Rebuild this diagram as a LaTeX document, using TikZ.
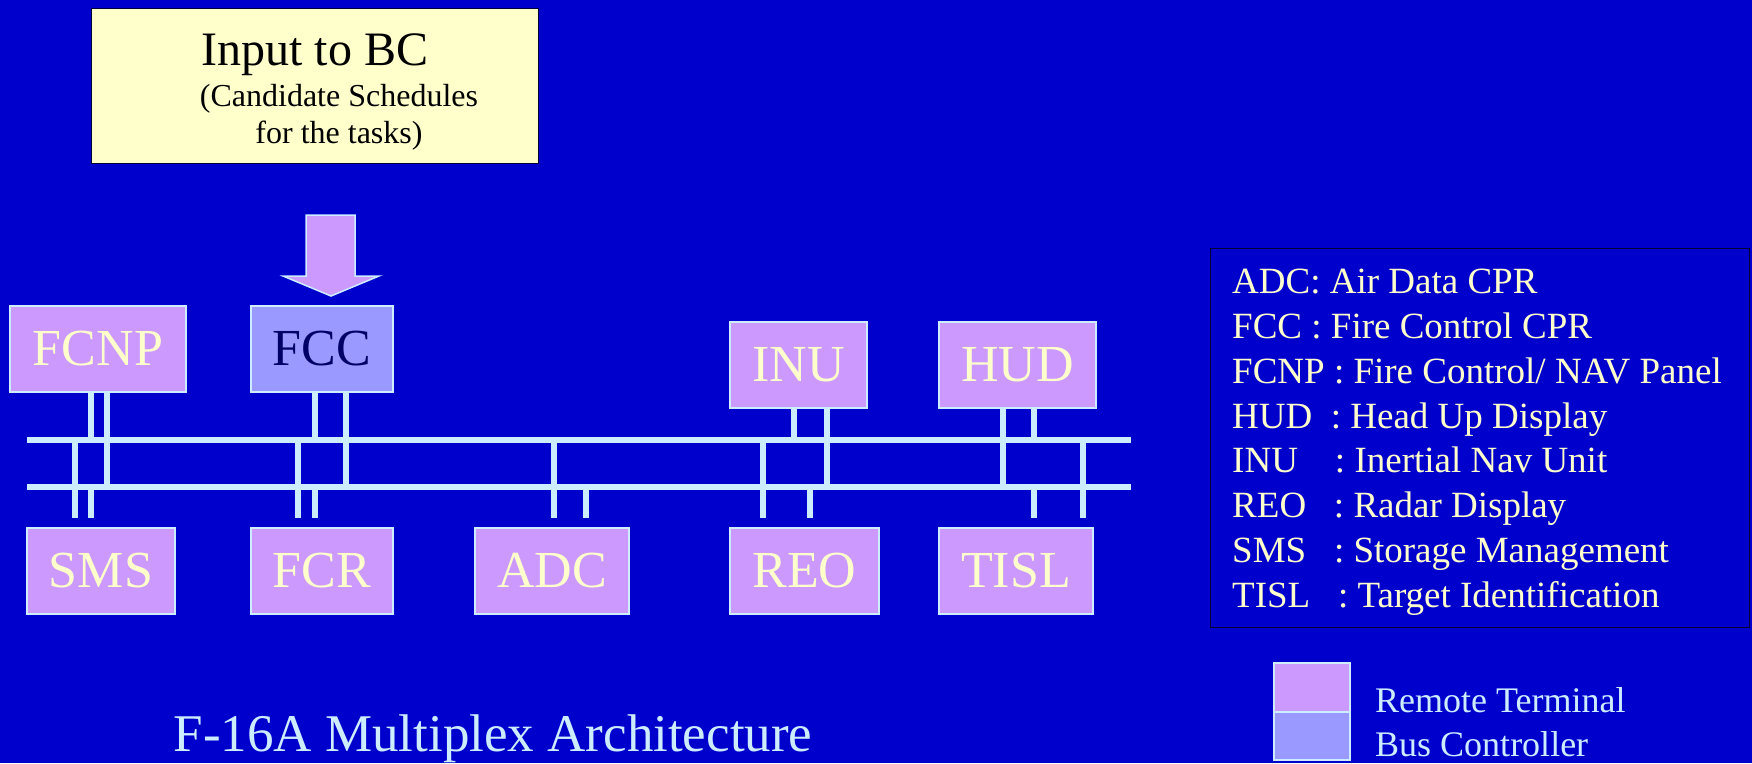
\documentclass[tikz,border=0pt]{standalone}
\usepackage{fontspec}
\setmainfont{Liberation Serif}

\definecolor{bgblue}{HTML}{0000CC}
\definecolor{rtpurple}{HTML}{CC99FF}
\definecolor{bcviolet}{HTML}{9999FF}
\definecolor{lightcyan}{HTML}{CCECFF}
\definecolor{paleyellow}{HTML}{FFFFCC}
\definecolor{navytext}{HTML}{000066}
\definecolor{darkrule}{HTML}{000033}

\tikzset{
    unit/.style={rectangle, draw=lightcyan, line width=1.5pt, fill=rtpurple,
        text=paleyellow, inner sep=0pt, minimum height=86pt,
        font=\fontsize{52}{60}\selectfont},
    controller/.style={unit, fill=bcviolet, text=navytext},
    stub/.style={draw=lightcyan, line width=6pt},
    bus/.style={draw=lightcyan, line width=6pt},
    legendline/.style={anchor=base west, inner sep=0pt, text=paleyellow,
        font=\fontsize{37}{44}\selectfont},
}

\begin{document}
\begin{tikzpicture}[x=1pt, y=-1pt]
    \useasboundingbox (0,0) rectangle (1752,763);
    \fill [bgblue] (0,0) rectangle (1752,763);

    % input box
    \node [rectangle, draw=darkrule, line width=1pt, fill=paleyellow,
           minimum width=447pt, minimum height=155pt, inner sep=0pt]
        (input) at (315,85.5) {};
    \node [anchor=base, inner sep=0pt, font=\fontsize{48}{56}\selectfont]
        (inputtitle) at (315,65) {Input to BC};
    \node [anchor=base, inner sep=0pt, font=\fontsize{32}{37}\selectfont]
        (inputsub) at (339,106) {(Candidate Schedules};
    \node [anchor=base, inner sep=0pt, font=\fontsize{32}{37}\selectfont]
        (inputtasks) at (339,143) {for the tasks)};

    \draw [draw=lightcyan, line width=1.5pt, fill=rtpurple]
        (306,215) -- (355,215) -- (355,276) -- (379,276)
        -- (331,296) -- (283,276) -- (306,276) -- cycle
        ;

    % terminals
    \node [unit, minimum width=176pt] (fcnp) at (98,349) {FCNP};
    \node [controller, minimum width=142pt] (fcc) at (322,349) {FCC};
    \node [unit, minimum width=137pt] (inu) at (798.5,365) {INU};
    \node [unit, minimum width=157pt] (hud) at (1017.5,365) {HUD};

    \node [unit, minimum width=148pt] (sms) at (101,571) {SMS};
    \node [unit, minimum width=142pt] (fcr) at (322,571) {FCR};
    \node [unit, minimum width=154pt] (adc) at (552,571) {ADC};
    \node [unit, minimum width=149pt] (reo) at (804.5,571) {REO};
    \node [unit, minimum width=154pt] (tisl) at (1016,571) {TISL};

    % the two buses
    \coordinate (busA-w) at (27,440);
    \coordinate (busA-e) at (1131,440);
    \coordinate (busB-w) at (27,487);
    \coordinate (busB-e) at (1131,487);

    % stubs from the upper row
    \draw [stub] ([xshift=-7pt]fcnp.south) -- ([xshift=-7pt]fcnp.south |- busA-w);
    \draw [stub] ([xshift=9pt]fcnp.south) -- ([xshift=9pt]fcnp.south |- busB-w);
    \draw [stub] ([xshift=-7pt]fcc.south) -- ([xshift=-7pt]fcc.south |- busA-w);
    \draw [stub] ([xshift=24pt]fcc.south) -- ([xshift=24pt]fcc.south |- busB-w);
    \draw [stub] ([xshift=-4.5pt]inu.south) -- ([xshift=-4.5pt]inu.south |- busA-w);
    \draw [stub] ([xshift=28.5pt]inu.south) -- ([xshift=28.5pt]inu.south |- busB-w);
    \draw [stub] ([xshift=-14.5pt]hud.south) -- ([xshift=-14.5pt]hud.south |- busB-w);
    \draw [stub] ([xshift=16.5pt]hud.south) -- ([xshift=16.5pt]hud.south |- busA-w);

    % stubs down to the lower row
    \draw [stub] ([xshift=-26pt]sms.north |- busA-w) -- ([xshift=-26pt, yshift=9pt]sms.north);
    \draw [stub] ([xshift=-10pt]sms.north |- busB-w) -- ([xshift=-10pt, yshift=9pt]sms.north);
    \draw [stub] ([xshift=-24pt]fcr.north |- busA-w) -- ([xshift=-24pt, yshift=9pt]fcr.north);
    \draw [stub] ([xshift=-7pt]fcr.north |- busB-w) -- ([xshift=-7pt, yshift=9pt]fcr.north);
    \draw [stub] ([xshift=2pt]adc.north |- busA-w) -- ([xshift=2pt, yshift=9pt]adc.north);
    \draw [stub] ([xshift=34pt]adc.north |- busB-w) -- ([xshift=34pt, yshift=9pt]adc.north);
    \draw [stub] ([xshift=-41.5pt]reo.north |- busA-w) -- ([xshift=-41.5pt, yshift=9pt]reo.north);
    \draw [stub] ([xshift=5.5pt]reo.north |- busB-w) -- ([xshift=5.5pt, yshift=9pt]reo.north);
    \draw [stub] ([xshift=18pt]tisl.north |- busB-w) -- ([xshift=18pt, yshift=9pt]tisl.north);
    \draw [stub] ([xshift=67pt]tisl.north |- busA-w) -- ([xshift=67pt, yshift=9pt]tisl.north);

    \draw [bus] (busA-w) -- (busA-e);
    \draw [bus] (busB-w) -- (busB-e);

    % caption
    \node [anchor=base, inner sep=0pt, text=lightcyan,
           font=\fontsize{53}{60}\selectfont]
        (caption) at (493,751) {F-16A Multiplex Architecture};

    % abbreviations
    \draw [darkrule, line width=1pt] (1210,248) rectangle (1749,627);
    \node [legendline] (l1) at (1232,293) {ADC: Air Data CPR};
    \node [legendline] (l2) at (1232,338) {FCC : Fire Control CPR};
    \node [legendline] (l3) at (1232,383) {FCNP : Fire Control/ NAV Panel};
    \node [legendline] (l4) at (1232,428) {HUD~~: Head Up Display};
    \node [legendline] (l5) at (1232,472) {INU~~~~: Inertial Nav Unit};
    \node [legendline] (l6) at (1232,517) {REO~~~: Radar Display};
    \node [legendline] (l7) at (1232,562) {SMS~~~: Storage Management};
    \node [legendline] (l8) at (1232,607) {TISL~~~: Target Identification};

    % key
    \draw [draw=lightcyan, line width=1.5pt, fill=rtpurple] (1274,663) rectangle (1350,712);
    \draw [draw=lightcyan, line width=1.5pt, fill=bcviolet] (1274,712) rectangle (1350,760);
    \node [legendline, text=lightcyan, font=\fontsize{36}{42}\selectfont]
        (keyrt) at (1375,712) {Remote Terminal};
    \node [legendline, text=lightcyan, font=\fontsize{36}{42}\selectfont]
        (keybc) at (1375,756) {Bus Controller};
\end{tikzpicture}
\end{document}
